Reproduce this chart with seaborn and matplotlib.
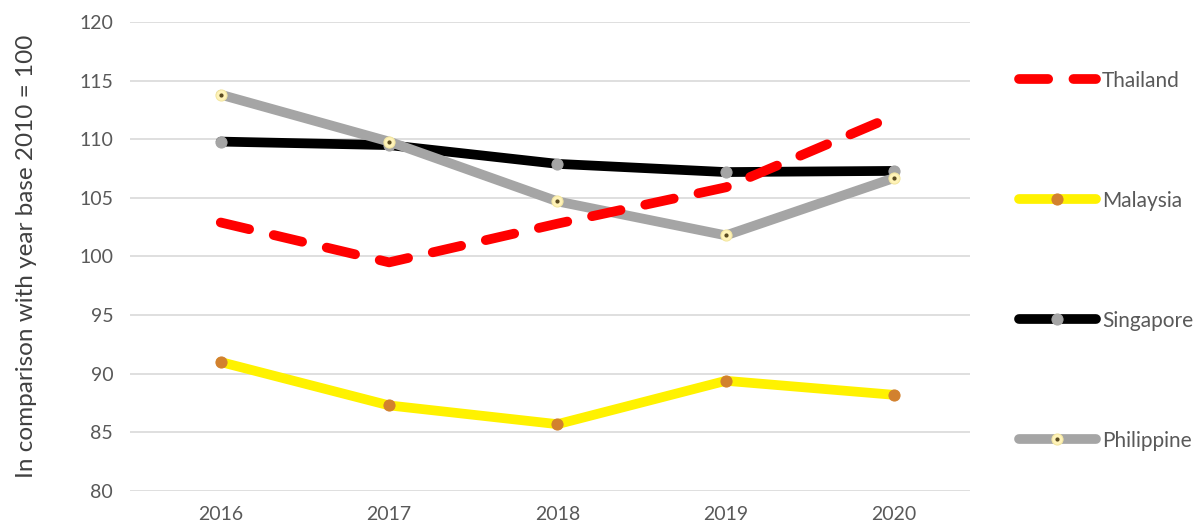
import matplotlib
matplotlib.use("Agg")
import matplotlib.pyplot as plt
import seaborn as sns
import pandas as pd
from matplotlib.lines import Line2D
from matplotlib.legend_handler import HandlerTuple

years = [2016, 2017, 2018, 2019, 2020]
thailand = [102.9, 99.5, 102.8, 105.9, 112.0]
malaysia = [91.0, 87.3, 85.7, 89.4, 88.2]
singapore = [109.8, 109.5, 107.9, 107.2, 107.3]
philippine = [113.8, 109.8, 104.7, 101.8, 106.7]
yticks = [80, 85, 90, 95, 100, 105, 110, 115, 120]

sns.set_theme(style="white")
plt.rcParams['font.family'] = ['Lato', 'DejaVu Sans']

fig = plt.figure(figsize=(12.02, 5.31), dpi=100)
ax = fig.add_axes([0.108, 0.0753, 0.699, 0.8833])

lw = 7.0
grey_txt = '#595959'

df_s = pd.DataFrame({'year': years, 'v': singapore})
df_p = pd.DataFrame({'year': years, 'v': philippine})
df_m = pd.DataFrame({'year': years, 'v': malaysia})
df_t = pd.DataFrame({'year': years, 'v': thailand})

sns.lineplot(data=df_t, x='year', y='v', ax=ax, color='#FF0000', lw=lw,
             dashes=False, label='Thailand', zorder=5)
lt = ax.get_lines()[-1]
lt.set_dashes((3.0, 2.6))
lt.set_dash_capstyle('round')

sns.lineplot(data=df_m, x='year', y='v', ax=ax, color='#FFF200', lw=lw,
             marker='o', markersize=8, markerfacecolor='#D2812E',
             markeredgecolor='#D2812E', label='Malaysia', zorder=3)
sns.lineplot(data=df_s, x='year', y='v', ax=ax, color='#000000', lw=lw,
             marker='o', markersize=8, markerfacecolor='#A5A5A5',
             markeredgecolor='#A5A5A5', label='Singapore', zorder=3)
sns.lineplot(data=df_p, x='year', y='v', ax=ax, color='#A5A5A5', lw=lw,
             marker='o', markersize=8, markerfacecolor='#FFF3B8',
             markeredgecolor='#F3E6A0', label='Philippine', zorder=4)
ax.plot(years, philippine, ls='none', marker='o', markersize=2,
        color='#5A4A20', zorder=4.5)

for l in ax.get_lines():
    l.set_solid_capstyle('round')

ax.set_xlim(2016 - 0.54, 2020 + 0.45)
ax.set_ylim(80, 120)
ax.set_xticks(years)
ax.set_xticklabels([str(y) for y in years])
ax.set_yticks(yticks)
ax.yaxis.grid(True, color='#D9D9D9', lw=1.2)
ax.xaxis.grid(False)
for s in ax.spines.values():
    s.set_visible(False)
ax.tick_params(axis='both', colors=grey_txt, labelsize=14, length=0)
ax.tick_params(axis='y', pad=12)
ax.tick_params(axis='x', pad=11)
ax.set_xlabel('')
ax.set_ylabel('In comparison with year base 2010 = 100', fontsize=17.5,
              color='#404040')
ax.yaxis.set_label_coords(-0.111, 0.5)

handles, labels = ax.get_legend_handles_labels()
if ax.get_legend():
    ax.get_legend().remove()
hmap = dict(zip(labels, handles))
ph = hmap['Philippine']
dot_h = Line2D([], [], ls='none', marker='o', markersize=2, color='#5A4A20')
new_handles = [hmap['Thailand'], hmap['Malaysia'], hmap['Singapore'], (ph, dot_h)]
new_labels = ['Thailand', 'Malaysia', 'Singapore', 'Philippine']
fig.legend(new_handles, new_labels, loc='upper left',
           bbox_to_anchor=(0.832, 0.902), frameon=False, fontsize=15,
           labelspacing=4.8, handlelength=3.7, handletextpad=0.3,
           handler_map={tuple: HandlerTuple(ndivide=1, pad=0)},
           labelcolor=grey_txt)

fig.savefig('out.png', dpi=100)
